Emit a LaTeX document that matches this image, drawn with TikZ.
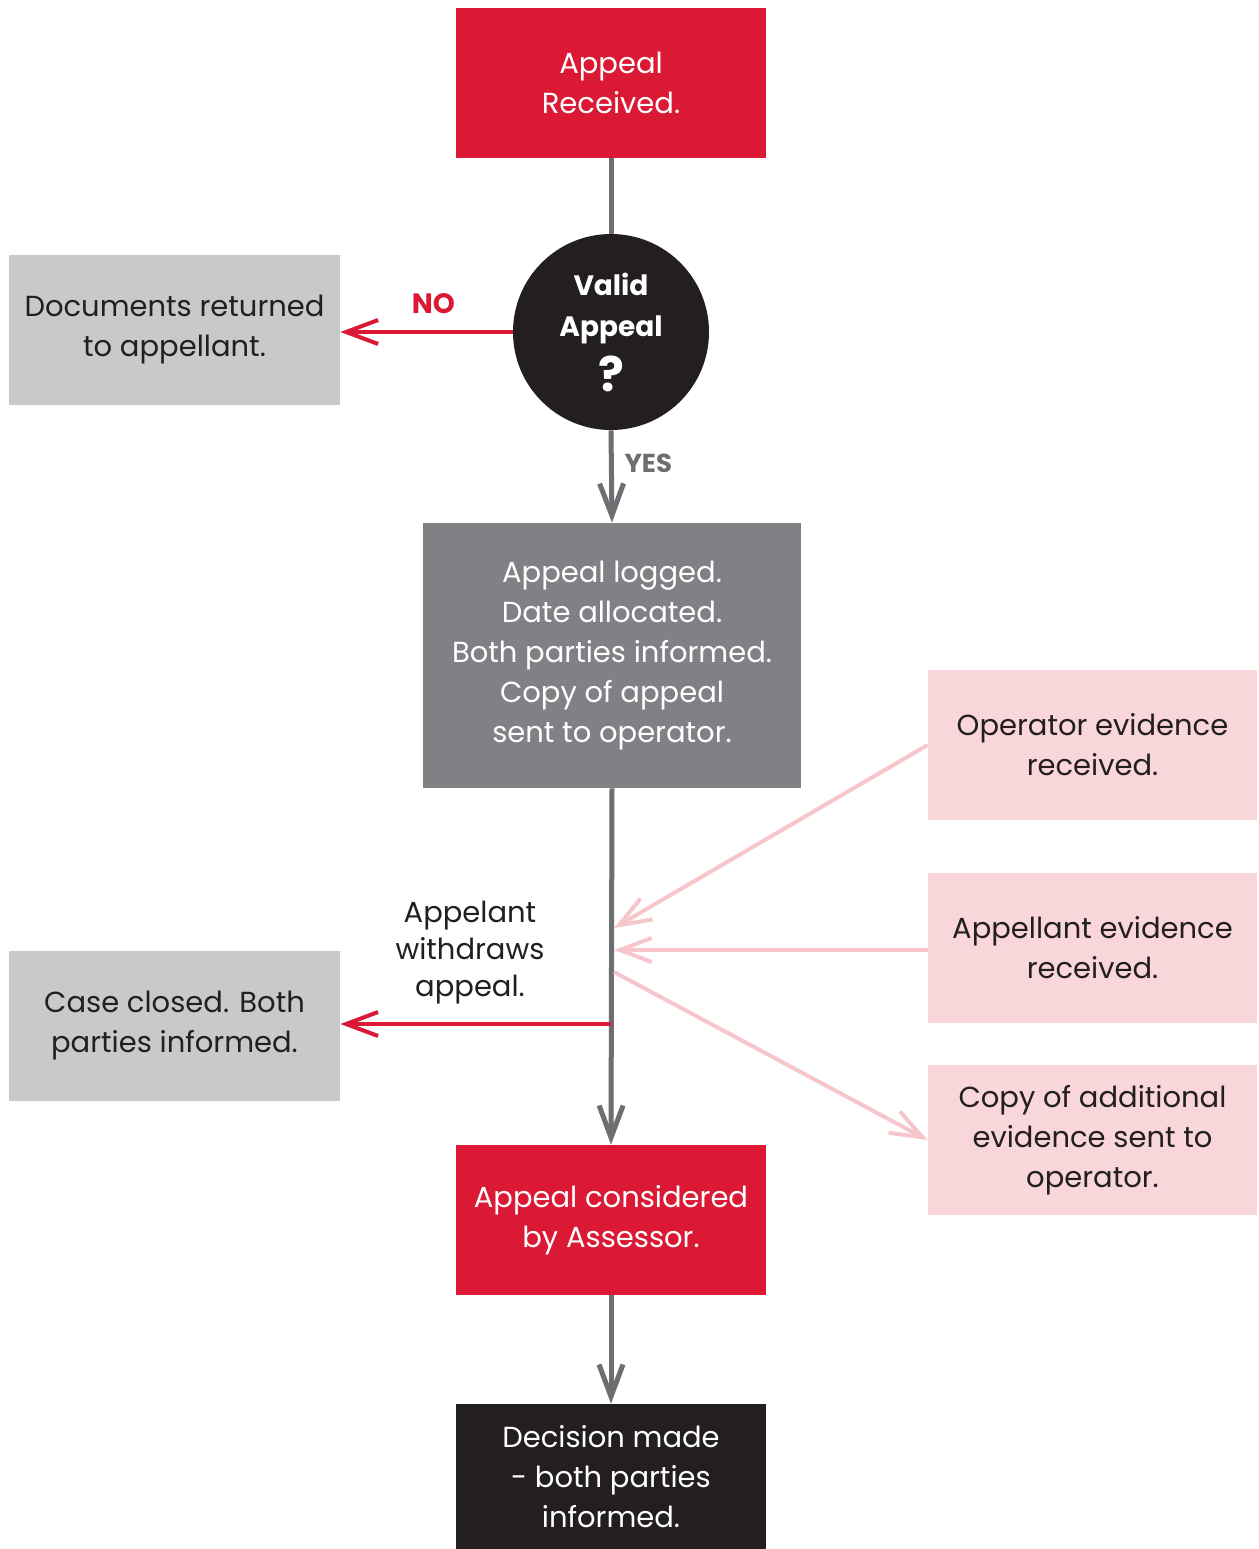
\documentclass[tikz,border=0pt]{standalone}
\usepackage{fontspec}
\setmainfont{Poppins}
\usetikzlibrary{arrows.meta,positioning}

\definecolor{appred}{RGB}{220,25,53}
\definecolor{appgrey}{RGB}{128,129,133}
\definecolor{lightgrey}{RGB}{200,201,203}
\definecolor{appink}{RGB}{249,214,218}
\definecolor{pinkline}{RGB}{247,198,203}
\definecolor{appblack}{RGB}{35,31,32}
\definecolor{linegrey}{RGB}{109,110,113}

\tikzset{
  box/.style={minimum width=155pt, minimum height=75pt, align=center, inner sep=0pt,
    font=\fontsize{14.5}{20}\selectfont},
  redbox/.style={box, fill=appred, text=white},
  greybox/.style={box, fill=lightgrey, text=appblack, minimum width=165.5pt},
  pinkbox/.style={box, fill=appink, text=appblack, minimum width=164.5pt},
  flow/.style={draw=linegrey, line width=2.5pt, -{Straight Barb[length=16pt,width=12pt]}},
  noflow/.style={draw=appred, line width=2pt, -{Straight Barb[length=16pt,width=12pt]}},
  evflow/.style={draw=pinkline, line width=2pt, -{Straight Barb[length=16pt,width=12pt]}},
}

\begin{document}
\begin{tikzpicture}[x=0.5pt,y=-0.5pt]
  \useasboundingbox[fill=white] (0,0) rectangle (1259,1549);

  %% main column
  \node[redbox] (received) at (611,82.5) {Appeal\\Received.};
  \node[circle, fill=appblack, text=white, minimum size=98pt, inner sep=0pt, align=center,
    font=\fontsize{14}{20.5}\bfseries\selectfont] (valid) at (611,332)
    {Valid\\Appeal\\[5pt]{\fontsize{24}{20}\selectfont ?}};
  \node[box, fill=appgrey, text=white, minimum width=189pt, minimum height=132.5pt] (logged) at (612,655.5)
    {Appeal logged.\\Date allocated.\\Both parties informed.\\Copy of appeal\\sent to operator.};
  \node[redbox] (assessor) at (611,1220) {Appeal considered\\by Assessor.};
  \node[box, fill=appblack, text=white, minimum height=72.5pt] (decision) at (611,1476.5)
    {Decision made\\- both parties\\informed.};

  %% left side
  \node[greybox] (returned) at (174.5,330) {Documents returned\\to appellant.};
  \node[greybox] (closed) at (174.5,1026) {Case closed. Both\\parties informed.};

  %% right side
  \node[pinkbox] (opev) at (1092.5,745) {Operator evidence\\received.};
  \node[pinkbox] (apev) at (1092.5,948) {Appellant evidence\\received.};
  \node[pinkbox] (copyev) at (1092.5,1140) {Copy of additional\\evidence sent to\\operator.};

  %% points on the main line
  \coordinate (inop) at (614,928);
  \coordinate (inap) at (614,950);
  \coordinate (outcopy) at (614,972);
  \coordinate (outwd) at (611,1024);

  %% connectors
  \draw[draw=linegrey, line width=2.5pt] (received.south) -- (valid.north);
  \draw[noflow] (valid.west) -- (valid.west -| returned.east) node[pos=0.46, above=5pt, text=appred,
    font=\fontsize{14}{20}\bfseries\selectfont] {NO};
  \draw[flow] (valid.south) -- (logged.north) node[pos=0.36, right=2pt, text=linegrey,
    font=\fontsize{13}{20}\bfseries\selectfont] {YES};
  \draw[flow] (logged.south) -- (assessor.north);
  \draw[noflow] (outwd) -- (outwd -| closed.east);
  \node[align=center, text=appblack, font=\fontsize{14.5}{18.5}\selectfont] (wdlabel) at (470,953)
    {Appelant\\withdraws\\appeal.};
  \draw[evflow] (opev.west) -- (inop);
  \draw[evflow] (apev.west |- inap) -- (inap);
  \draw[evflow] (outcopy) -- (copyev.west);
  \draw[flow] (assessor.south) -- (decision.north);
\end{tikzpicture}
\end{document}
